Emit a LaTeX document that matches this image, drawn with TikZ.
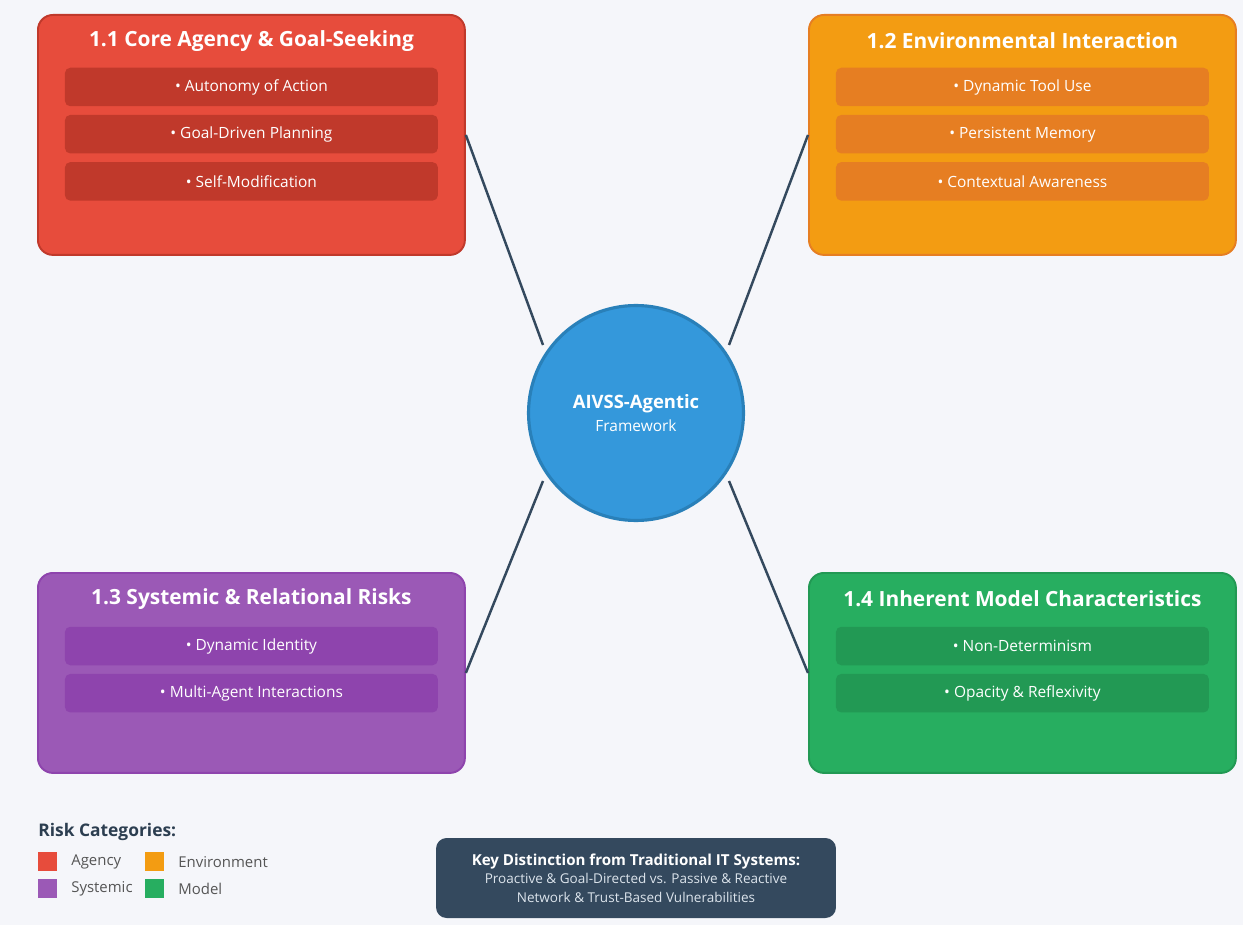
\documentclass[tikz,border=0pt]{standalone}
\usepackage{fontspec}
\setmainfont{Open Sans}
\usepackage{xcolor}
\usepackage{tikz}
\usetikzlibrary{positioning,backgrounds,calc}
\definecolor{pbg}{HTML}{F5F6FA}
\definecolor{pred}{HTML}{E74C3C}
\definecolor{pdred}{HTML}{C0392B}
\definecolor{porange}{HTML}{F39C12}
\definecolor{pdorange}{HTML}{E67E22}
\definecolor{ppurple}{HTML}{9B59B6}
\definecolor{pdpurple}{HTML}{8E44AD}
\definecolor{pgreen}{HTML}{27AE60}
\definecolor{pdgreen}{HTML}{229954}
\definecolor{pblue}{HTML}{3498DB}
\definecolor{pdblue}{HTML}{2980B9}
\definecolor{pslate}{HTML}{34495E}
\definecolor{pnavy}{HTML}{2C3E50}
\definecolor{ptext}{HTML}{555555}
\definecolor{plight}{HTML}{DCE4EC}
\newcommand{\titlefont}{\fontsize{11.9}{14}\selectfont\bfseries}
\newcommand{\itemfont}{\fontsize{8.8}{10.5}\selectfont}

\begin{document}
\begin{tikzpicture}[x=0.02cm,y=-0.02cm,
    catbox/.style 2 args={fill=#1,draw=#2,line width=1.1pt,rounded corners=8.5pt,
      minimum width=8.54cm,anchor=north west,inner sep=0pt},
    cattitle/.style={text=white,font=\titlefont,inner sep=0pt},
    catitem/.style={fill=#1,text=white,font=\itemfont,rounded corners=3pt,
      minimum width=7.46cm,minimum height=0.77cm,inner sep=0pt},
    link/.style={draw=pslate,line width=1.4pt},
    swatch/.style={fill=#1,minimum size=0.38cm,inner sep=0pt},
    leglabel/.style={text=ptext,font=\fontsize{8.5}{10}\selectfont,anchor=west,inner sep=0pt},
    node distance=0.16cm]

  \fill[pbg] (0,0) rectangle (1243,925);

  % category boxes
  \node[catbox={pred}{pdred},minimum height=4.8cm] (b11) at (37,14) {};
  \node[catbox={porange}{pdorange},minimum height=4.8cm] (b12) at (808,14) {};
  \node[catbox={ppurple}{pdpurple},minimum height=4cm] (b13) at (37,572) {};
  \node[catbox={pgreen}{pdgreen},minimum height=4cm] (b14) at (808,572) {};

  \node[cattitle] (t11) at ($(b11.north)+(0,27)$) {1.1 Core Agency \& Goal-Seeking};
  \node[catitem=pdred] (i11a) at ($(b11.north)+(0,73)$) {• Autonomy of Action};
  \node[catitem=pdred,below=of i11a] (i11b) {• Goal-Driven Planning};
  \node[catitem=pdred,below=of i11b] (i11c) {• Self-Modification};

  \node[cattitle] (t12) at ($(b12.north)+(0,27)$) {1.2 Environmental Interaction};
  \node[catitem=pdorange] (i12a) at ($(b12.north)+(0,73)$) {• Dynamic Tool Use};
  \node[catitem=pdorange,below=of i12a] (i12b) {• Persistent Memory};
  \node[catitem=pdorange,below=of i12b] (i12c) {• Contextual Awareness};

  \node[cattitle] (t13) at ($(b13.north)+(0,27)$) {1.3 Systemic \& Relational Risks};
  \node[catitem=pdpurple] (i13a) at ($(b13.north)+(0,74)$) {• Dynamic Identity};
  \node[catitem=pdpurple,below=of i13a] (i13b) {• Multi-Agent Interactions};

  \node[cattitle] (t14) at ($(b14.north)+(0,27)$) {1.4 Inherent Model Characteristics};
  \node[catitem=pdgreen] (i14a) at ($(b14.north)+(0,74)$) {• Non-Determinism};
  \node[catitem=pdgreen,below=of i14a] (i14b) {• Opacity \& Reflexivity};

  % centre
  \node[circle,fill=pblue,draw=pdblue,line width=1.8pt,minimum size=4.3cm,
        text=white,align=center] (hub) at (636,413)
        {{\fontsize{10.5}{13}\selectfont\bfseries AIVSS-Agentic}\\[1pt]
         {\itemfont Framework}};
  \coordinate (hubnw) at (543,345);
  \coordinate (hubne) at (729,345);
  \coordinate (hubsw) at (543,481);
  \coordinate (hubse) at (729,481);

  \draw[link] (b11.east) -- (hubnw);
  \draw[link] (b12.west) -- (hubne);
  \draw[link] (b13.east) -- (hubsw);
  \draw[link] (b14.west) -- (hubse);

  % legend
  \node[anchor=west,inner sep=0pt,text=pnavy,font=\fontsize{9.9}{12}\selectfont\bfseries]
        (legtitle) at (38,832) {Risk Categories:};
  \node[swatch=pred] (sw1) at (47.5,861.5) {};
  \node[leglabel] (lb1) at (71,862) {Agency};
  \node[swatch=porange] (sw2) at (154.5,861.5) {};
  \node[leglabel] (lb2) at (178,862) {Environment};
  \node[swatch=ppurple] (sw3) at (47.5,888.5) {};
  \node[leglabel] (lb3) at (71,889) {Systemic};
  \node[swatch=pgreen] (sw4) at (154.5,888.5) {};
  \node[leglabel] (lb4) at (178,889) {Model};

  % key distinction
  \node[fill=pslate,rounded corners=6pt,minimum width=8cm,minimum height=1.6cm,
        align=center,text=white] (key) at (636,878)
        {{\fontsize{8.6}{10.5}\selectfont\bfseries Key Distinction from Traditional IT Systems:}\\[-1.5pt]
         {\color{plight}\fontsize{7.7}{10.5}\selectfont Proactive \& Goal-Directed vs. Passive \& Reactive}\\[-1.5pt]
         {\color{plight}\fontsize{7.7}{10.5}\selectfont Network \& Trust-Based Vulnerabilities}};
\end{tikzpicture}
\end{document}
